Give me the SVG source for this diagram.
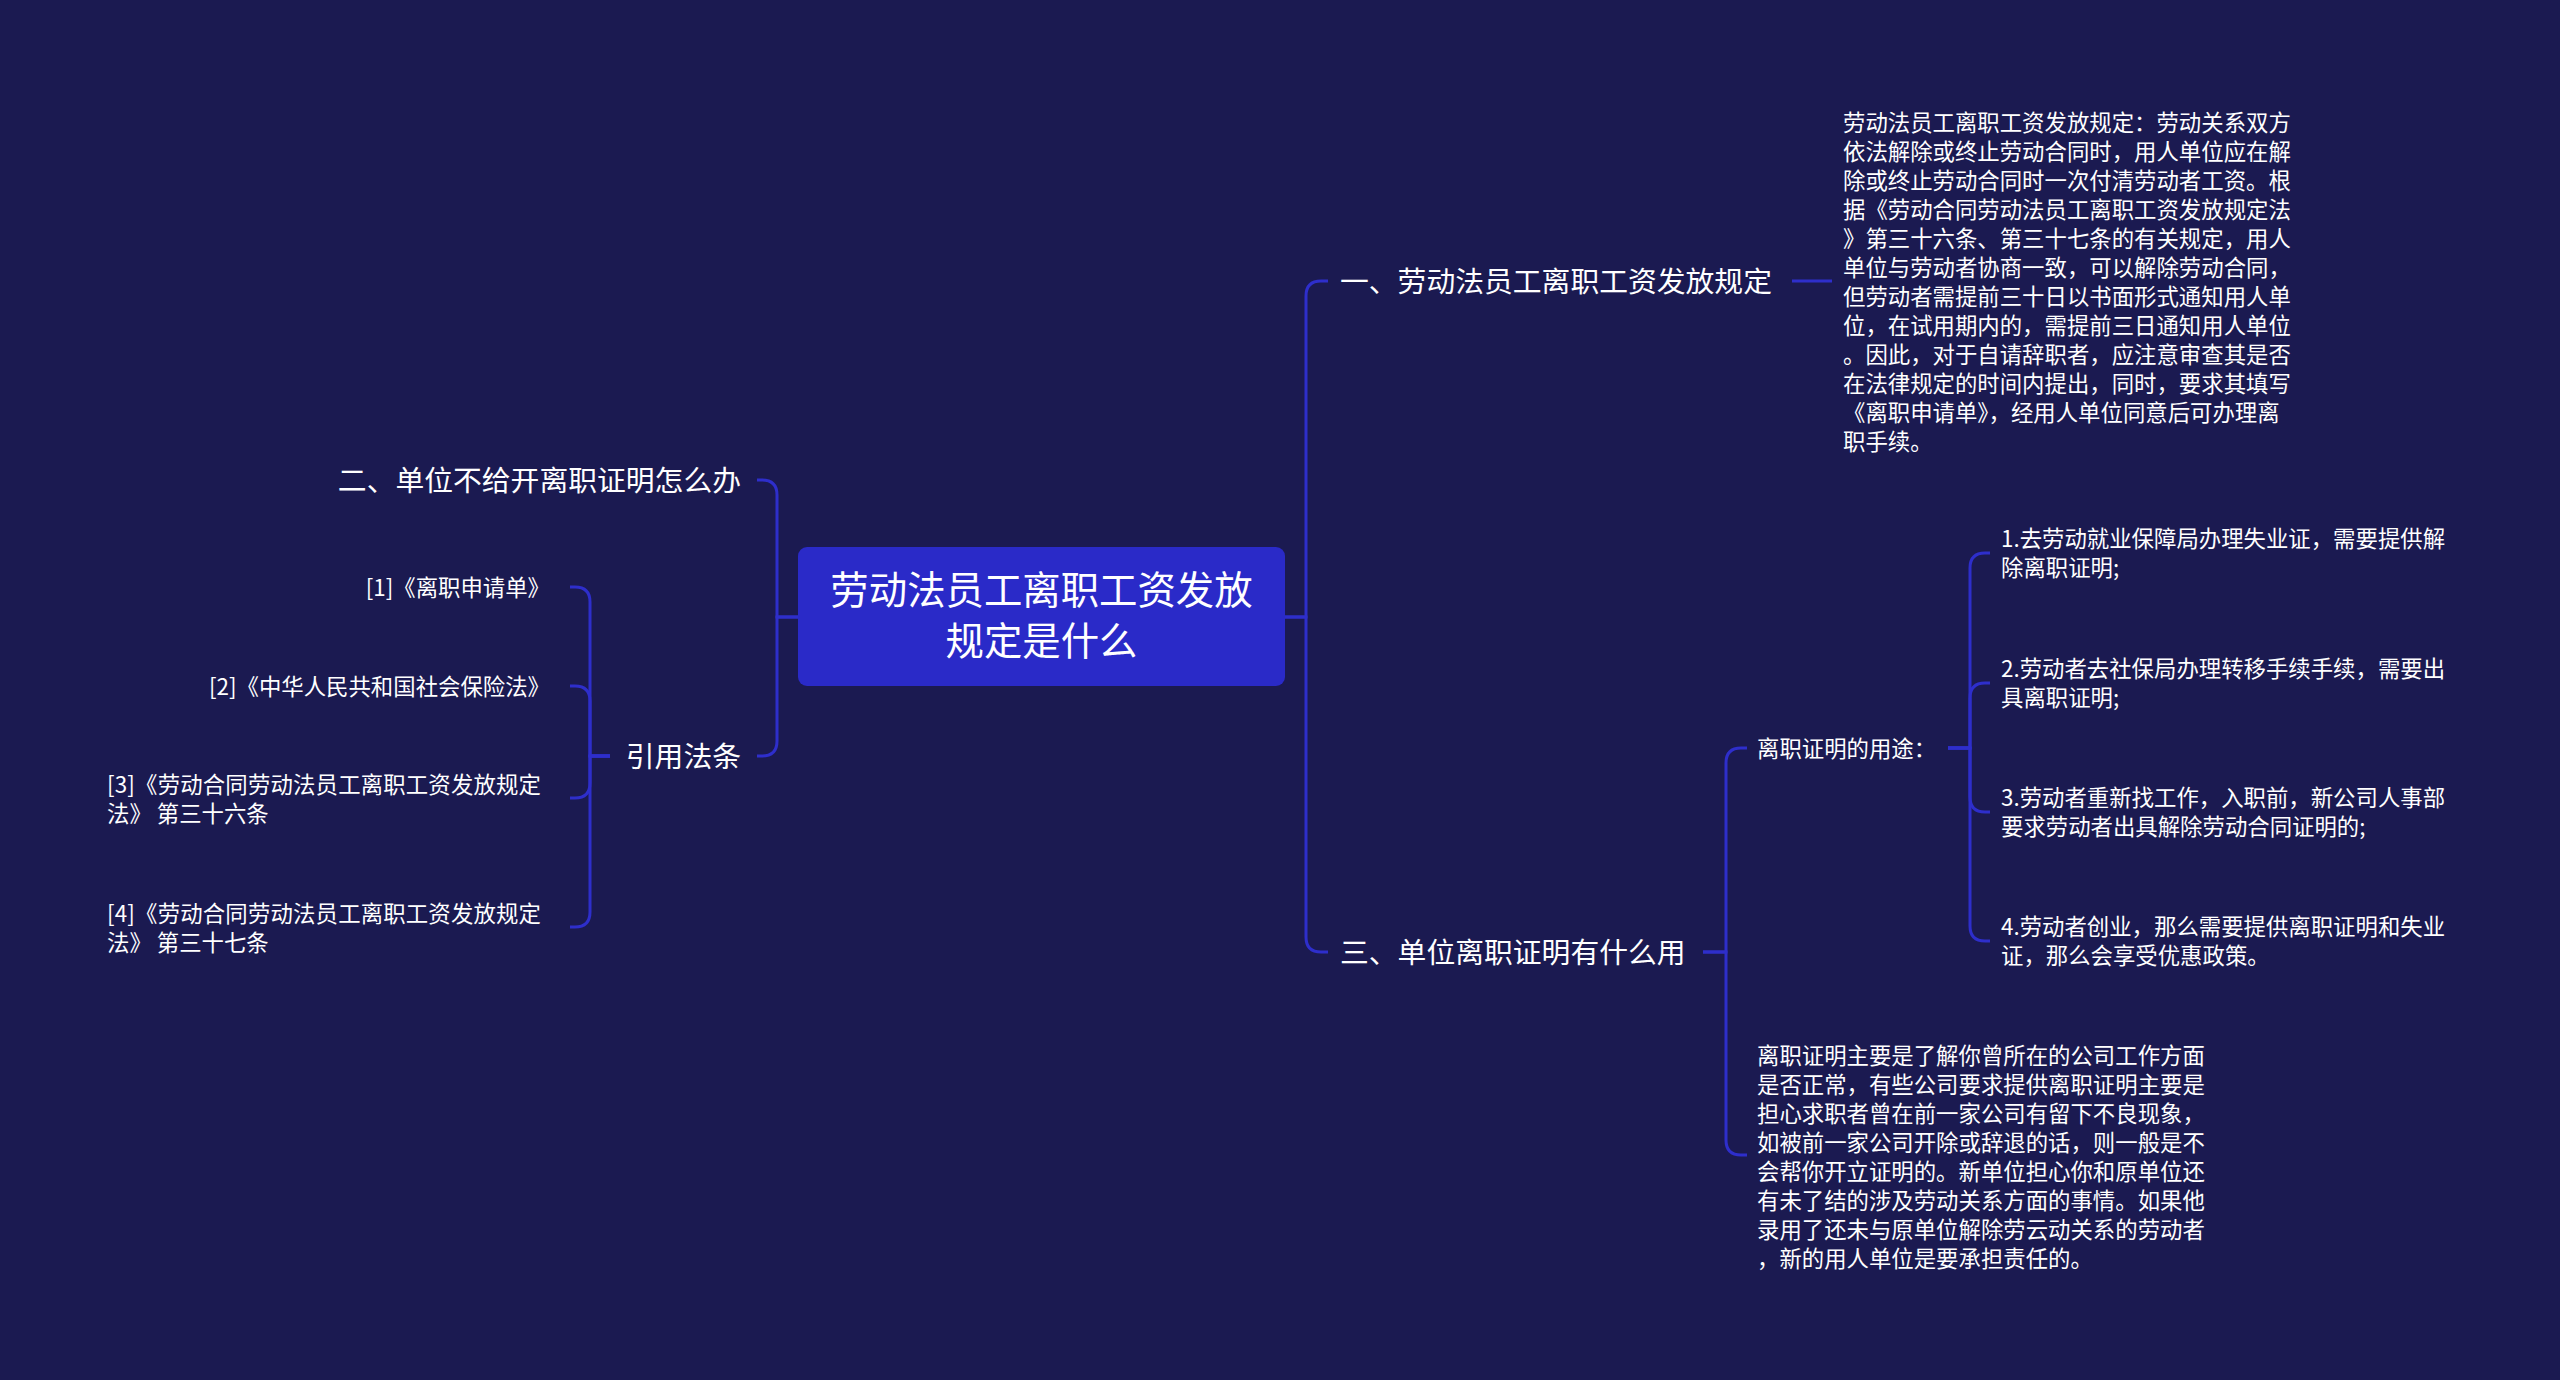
<svg xmlns="http://www.w3.org/2000/svg" width="2560" height="1380" viewBox="0 0 2560 1380">
<style>
text{font-family:"Noto Sans CJK SC","Noto Sans",sans-serif;fill:#ffffff}
.root{font-size:38.4px}
.l1{font-size:28.8px}
.l2{font-size:22.4px}
.end{text-anchor:end}
.conn path{fill:none;stroke:#2e2ecb;stroke-width:3;stroke-linecap:butt}
</style>
<rect x="0" y="0" width="2560" height="1380" fill="#1b1a51"/>
<g class="conn" id="connectors">
<path d="M1285,617 H1306 V296 Q1306,281 1321,281 H1328"/>
<path d="M1285,617 H1306 V937 Q1306,952 1321,952 H1328"/>
<path d="M1792,281 H1832"/>
<path d="M1703,952 H1726 V763 Q1726,748 1741,748 H1747"/>
<path d="M1703,952 H1726 V1140 Q1726,1155 1741,1155 H1747"/>
<path d="M1948,748 H1970 V568 Q1970,553 1985,553 H1990"/>
<path d="M1948,748 H1970 V698 Q1970,683 1985,683 H1990"/>
<path d="M1948,748 H1970 V797 Q1970,812 1985,812 H1990"/>
<path d="M1948,748 H1970 V926 Q1970,941 1985,941 H1990"/>
<path d="M798,617 H777 V495 Q777,480 762,480 H757"/>
<path d="M798,617 H777 V741 Q777,756 762,756 H757"/>
<path d="M610,756 H590 V602 Q590,587 575,587 H570"/>
<path d="M610,756 H590 V701 Q590,686 575,686 H570"/>
<path d="M610,756 H590 V783 Q590,798 575,798 H570"/>
<path d="M610,756 H590 V912 Q590,927 575,927 H570"/>
</g>
<g id="root">
<rect x="798" y="547" width="487" height="139" rx="9" fill="#2a2ac8"/>
<text class="root" text-anchor="middle"><tspan x="1041.5" y="604">劳动法员工离职工资发放</tspan><tspan x="1041.5" y="655">规定是什么</tspan></text>
</g>
<g id="n1">
<text class="l1" x="1340" y="292">一、劳动法员工离职工资发放规定</text>
</g>
<g id="n1-detail">
<text class="l2" x="1843" y="130.5">劳动法员工离职工资发放规定：劳动关系双方</text>
<text class="l2" x="1843" y="159.5">依法解除或终止劳动合同时，用人单位应在解</text>
<text class="l2" x="1843" y="188.5">除或终止劳动合同时一次付清劳动者工资。根</text>
<text class="l2" x="1843" y="217.5">据《劳动合同劳动法员工离职工资发放规定法</text>
<text class="l2" x="1843" y="246.5">》第三十六条、第三十七条的有关规定，用人</text>
<text class="l2" x="1843" y="275.5">单位与劳动者协商一致，可以解除劳动合同，</text>
<text class="l2" x="1843" y="304.5">但劳动者需提前三十日以书面形式通知用人单</text>
<text class="l2" x="1843" y="333.5">位，在试用期内的，需提前三日通知用人单位</text>
<text class="l2" x="1843" y="362.5">。因此，对于自请辞职者，应注意审查其是否</text>
<text class="l2" x="1843" y="391.5">在法律规定的时间内提出，同时，要求其填写</text>
<text class="l2" x="1843" y="420.5">《离职申请单》，经用人单位同意后可办理离</text>
<text class="l2" x="1843" y="449.5">职手续。</text>
</g>
<g id="n3">
<text class="l1" x="1340" y="963">三、单位离职证明有什么用</text>
</g>
<g id="n3-uses">
<text class="l2" x="1757" y="756.5">离职证明的用途：</text>
</g>
<g id="use1">
<text class="l2" x="2001" y="547">1.去劳动就业保障局办理失业证，需要提供解</text>
<text class="l2" x="2001" y="576">除离职证明;</text>
</g>
<g id="use2">
<text class="l2" x="2001" y="677">2.劳动者去社保局办理转移手续手续，需要出</text>
<text class="l2" x="2001" y="706">具离职证明;</text>
</g>
<g id="use3">
<text class="l2" x="2001" y="806">3.劳动者重新找工作，入职前，新公司人事部</text>
<text class="l2" x="2001" y="835">要求劳动者出具解除劳动合同证明的;</text>
</g>
<g id="use4">
<text class="l2" x="2001" y="935">4.劳动者创业，那么需要提供离职证明和失业</text>
<text class="l2" x="2001" y="964">证，那么会享受优惠政策。</text>
</g>
<g id="n3-detail">
<text class="l2" x="1757" y="1063.5">离职证明主要是了解你曾所在的公司工作方面</text>
<text class="l2" x="1757" y="1092.5">是否正常，有些公司要求提供离职证明主要是</text>
<text class="l2" x="1757" y="1121.5">担心求职者曾在前一家公司有留下不良现象，</text>
<text class="l2" x="1757" y="1150.5">如被前一家公司开除或辞退的话，则一般是不</text>
<text class="l2" x="1757" y="1179.5">会帮你开立证明的。新单位担心你和原单位还</text>
<text class="l2" x="1757" y="1208.5">有未了结的涉及劳动关系方面的事情。如果他</text>
<text class="l2" x="1757" y="1237.5">录用了还未与原单位解除劳云动关系的劳动者</text>
<text class="l2" x="1757" y="1266.5">，新的用人单位是要承担责任的。</text>
</g>
<g id="n2">
<text class="l1 end" x="741" y="491">二、单位不给开离职证明怎么办</text>
</g>
<g id="n4">
<text class="l1 end" x="741" y="767">引用法条</text>
</g>
<g id="law1">
<text class="l2 end" x="550" y="595.5">[1]《离职申请单》</text>
</g>
<g id="law2">
<text class="l2 end" x="550" y="694.5">[2]《中华人民共和国社会保险法》</text>
</g>
<g id="law3">
<text class="l2" x="107" y="792.5" textLength="434" lengthAdjust="spacing">[3]《劳动合同劳动法员工离职工资发放规定</text>
<text class="l2" x="107" y="821.5">法》 第三十六条</text>
</g>
<g id="law4">
<text class="l2" x="107" y="921.5" textLength="434" lengthAdjust="spacing">[4]《劳动合同劳动法员工离职工资发放规定</text>
<text class="l2" x="107" y="950.5">法》 第三十七条</text>
</g>
</svg>
